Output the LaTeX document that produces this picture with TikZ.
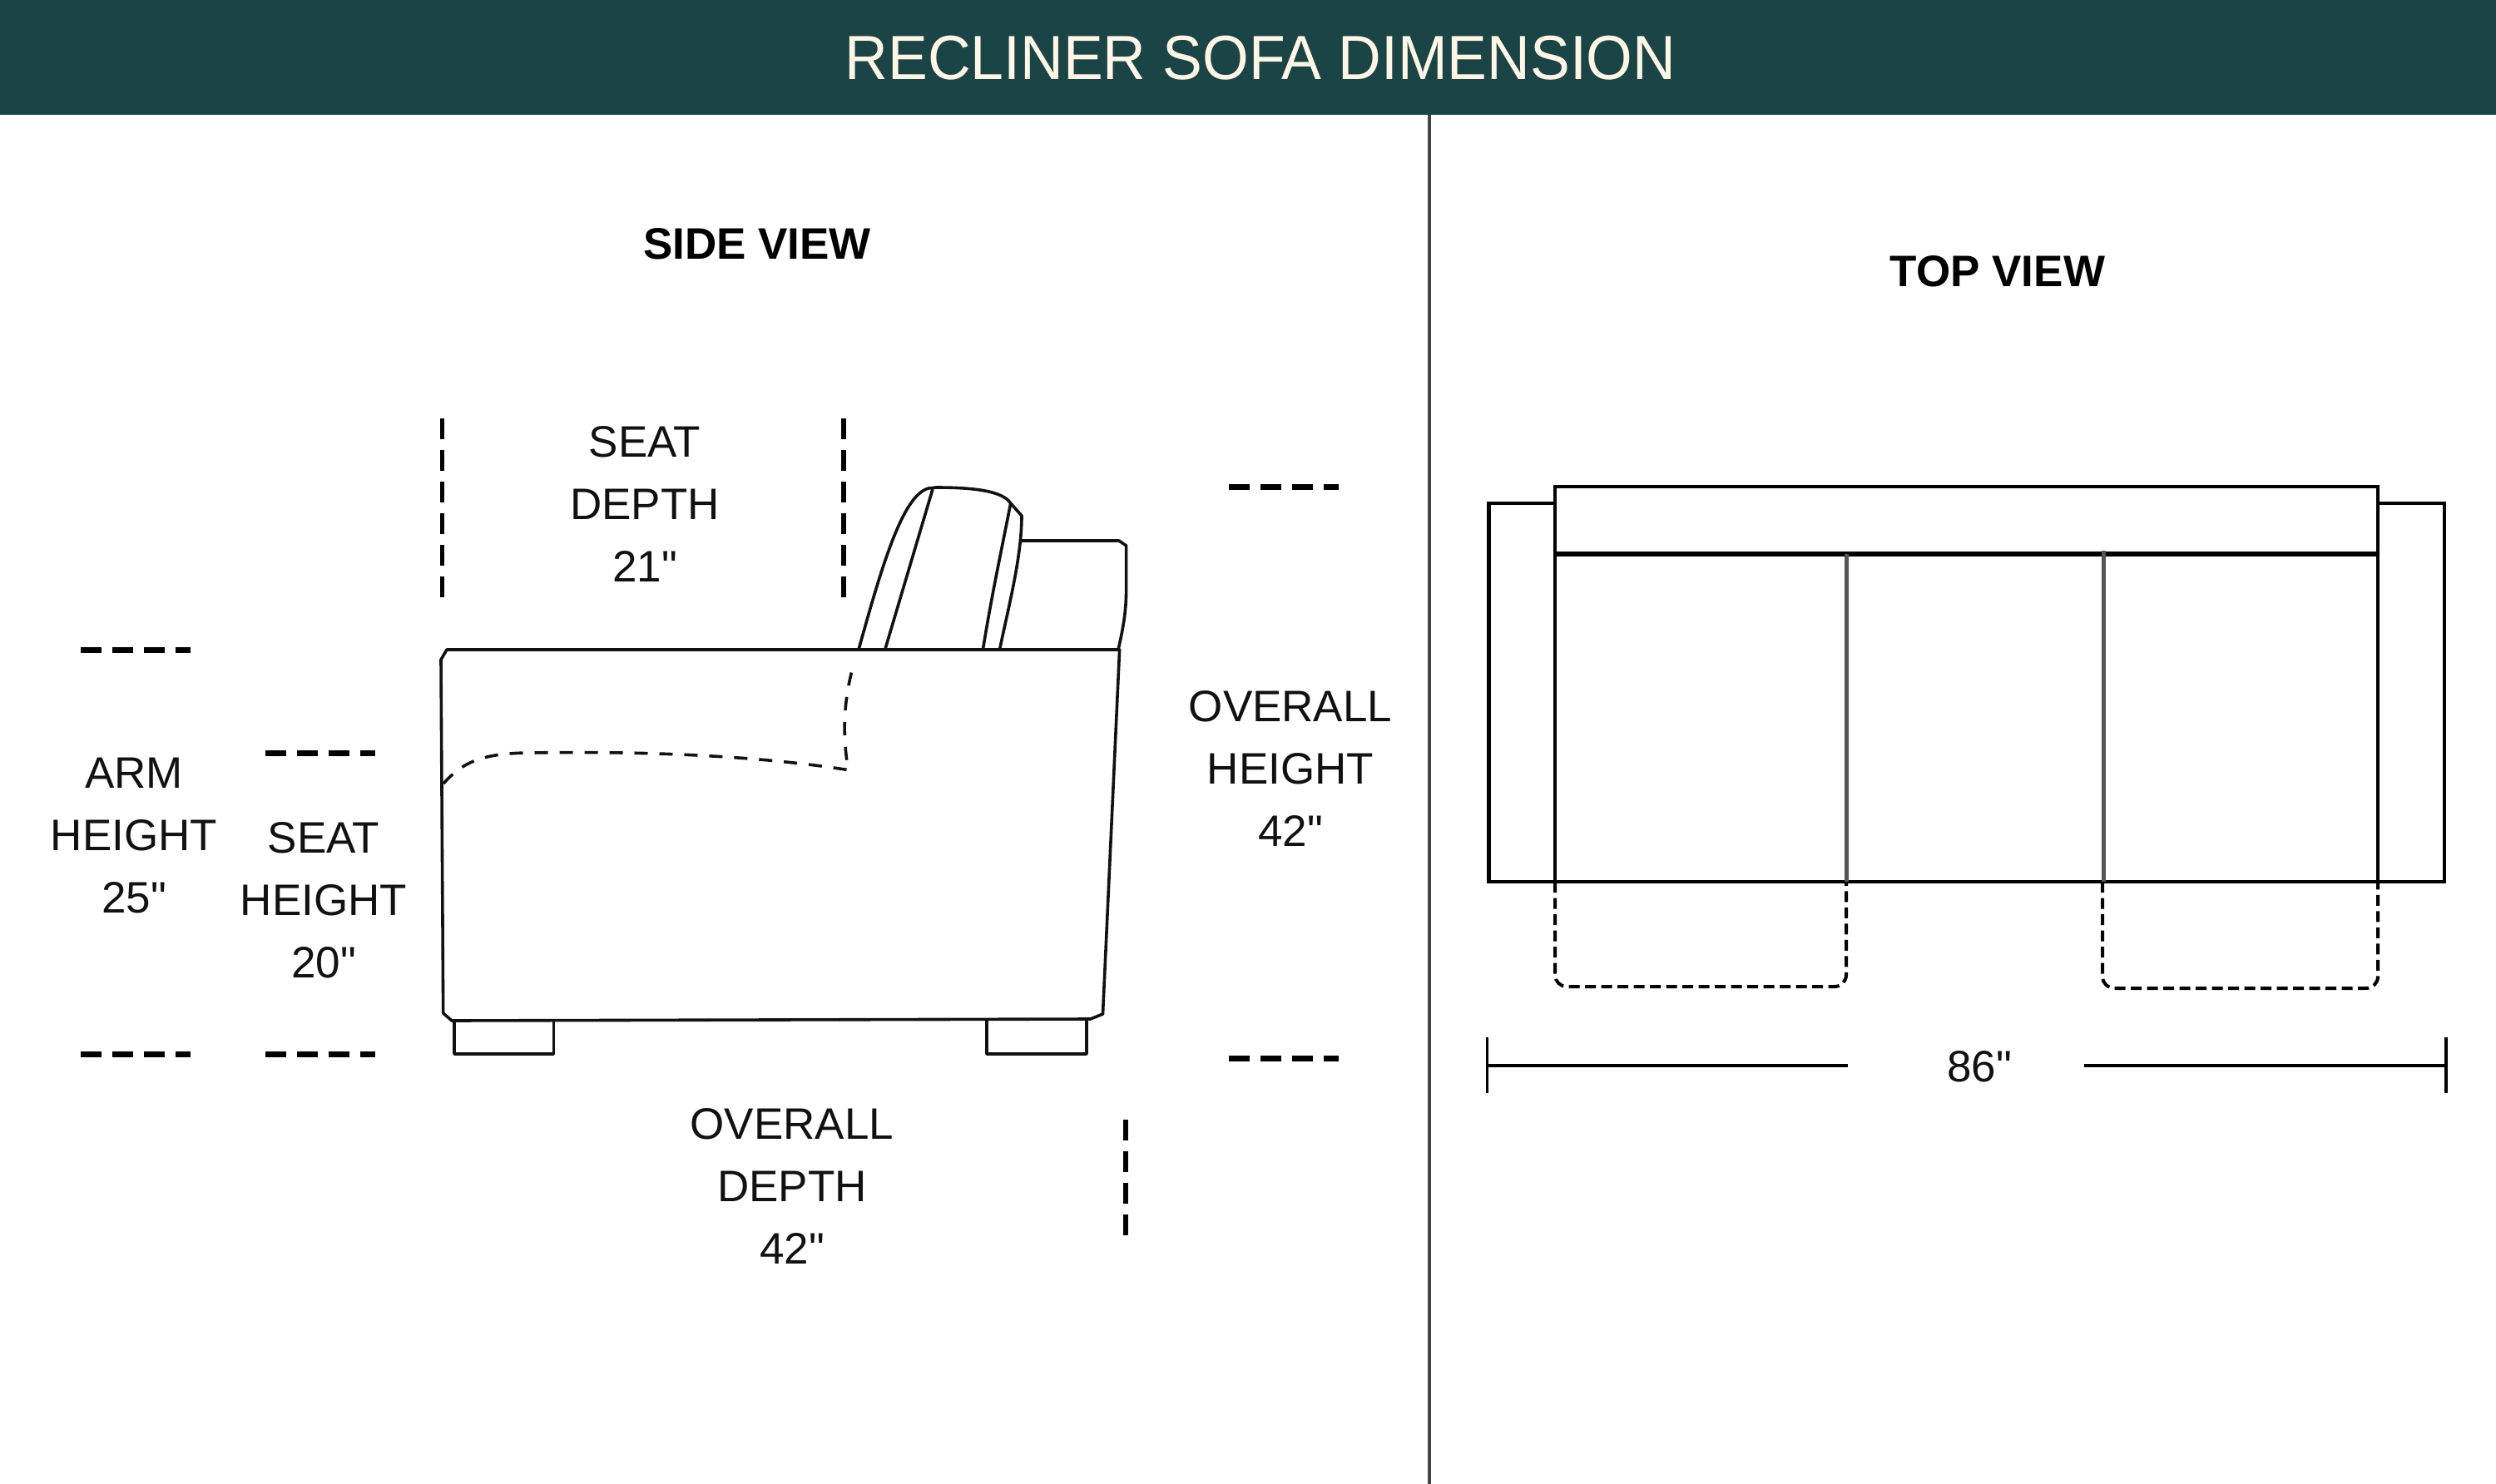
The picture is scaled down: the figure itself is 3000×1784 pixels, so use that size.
\documentclass[tikz,border=0pt]{standalone}
\usepackage{fontspec}
\setmainfont{Liberation Sans}
\newfontfamily\titlefont[FakeStretch=0.955]{Liberation Sans}
\newfontfamily\dimfont{Liberation Sans}
\definecolor{bandteal}{HTML}{1B4447}
\definecolor{cream}{HTML}{FFF6E6}
\definecolor{rulegrey}{HTML}{444444}
\definecolor{dividergrey}{HTML}{555555}
\definecolor{ink}{HTML}{111111}
\tikzset{
  band/.style={fill=bandteal,draw=none},
  maintitle/.style={text=cream,font=\titlefont\fontsize{75}{75}\selectfont,inner sep=0pt},
  viewtitle/.style={text=black,font=\fontsize{53}{53}\selectfont\bfseries,inner sep=0pt},
  dimtext/.style={text=ink,font=\dimfont\fontsize{53}{75}\selectfont,align=center,inner sep=0pt},
  outline/.style={draw=ink,line width=3.6pt,line join=round},
  hidden/.style={draw=ink,line width=3.6pt,dash pattern=on 16pt off 14pt},
  plan/.style={draw=black,line width=4.5pt,line join=miter},
  planthick/.style={draw=black,line width=6pt},
  plandiv/.style={draw=dividergrey,line width=5pt},
  planhidden/.style={draw=black,line width=4pt,dash pattern=on 13pt off 6.5pt,rounded corners=14pt},
  guideh/.style={draw=black,line width=7pt,dash pattern=on 25pt off 13pt},
  guidev/.style={draw=black,line width=5.5pt,dash pattern=on 25pt off 13pt},
  dimline/.style={draw=black,line width=3.6pt},
}
\begin{document}
\begin{tikzpicture}[x=1pt,y=-1pt]
\useasboundingbox (0,0) rectangle (3000,1784);
\fill[white] (0,0) rectangle (3000,1784);
\fill[band] (0,0) rectangle (3000,138.5);
\draw[rulegrey,line width=3.5pt] (1718,138.5) -- (1718,1784);

\node[maintitle] (title) at (1515,70) {RECLINER SOFA DIMENSION};
\node[viewtitle] (side) at (910,293) {SIDE VIEW};
\node[viewtitle] (top) at (2401,326) {TOP VIEW};

% Side view: body
\draw[outline] (537,781) -- (1345.6,781) -- (1325.5,1219) -- (1310.6,1225) -- (543,1227) -- (532.7,1218) -- (530,793) -- cycle;
% Feet
\draw[outline] (546,1227) -- (546,1267) -- (665.3,1267) -- (665.3,1227);
\draw[outline] (1186,1225) -- (1186,1267) -- (1306,1267) -- (1306,1225);
% Back cushion
\draw[outline] (1032,781) .. controls (1060,680) and (1085,595) .. (1116,587) -- (1125,586)
  .. controls (1170,586) and (1205,590) .. (1214.7,605) -- (1228,620)
  .. controls (1228,670) and (1212,730) .. (1201.5,781);
\draw[outline] (1063.7,781) -- (1121,588);
\draw[outline] (1181.4,781) .. controls (1192,715) and (1204,660) .. (1214.7,605);
\draw[outline] (1228,650) -- (1345,650) -- (1353.6,656) -- (1353.6,709) .. controls (1353.6,735) and (1350,755) .. (1344,781);
% Hidden seat line
\draw[hidden] (533,942) .. controls (556,916) and (580,905) .. (640,905)
  .. controls (760,903) and (900,907) .. (1019.5,925.6)
  .. controls (1012,880) and (1014,840) .. (1027,795);

% Guides
\draw[guidev] (531.6,503) -- (531.6,719);
\draw[guidev] (1014,503) -- (1014,719);
\draw[guidev] (1353,1346) -- (1353,1485);
\draw[guideh] (97,781) -- (229,781);
\draw[guideh] (97,1267) -- (229,1267);
\draw[guideh] (319,905) -- (451,905);
\draw[guideh] (319,1267) -- (451,1267);
\draw[guideh] (1477,585.5) -- (1609,585.5);
\draw[guideh] (1477,1272) -- (1609,1272);

% Labels
\node[dimtext] (seatdepth) at (775,606) {SEAT\\DEPTH\\21"};
\node[dimtext] (armheight) at (161,1005) {ARM\\HEIGHT\\25"};
\node[dimtext] (seatheight) at (389,1082) {SEAT\\HEIGHT\\20"};
\node[dimtext] (overallheight) at (1551,924) {OVERALL\\HEIGHT\\42"};
\node[dimtext] (overalldepth) at (952,1426) {OVERALL\\DEPTH\\42"};

% Top view
\draw[plan] (1869,604.8) -- (1789.5,604.8) -- (1789.5,1060) -- (1869,1060);
\draw[plan] (2858,604.8) -- (2938,604.8) -- (2938,1060) -- (2858,1060);
\draw[plan] (1869,585) rectangle (2858,1060);
\draw[planthick] (1869,665.5) -- (2858,665.5);
\draw[plandiv] (2219,665.5) -- (2219,1060);
\draw[plandiv] (2528.4,662) -- (2528.4,1060);
\draw[planhidden] (1869,1060) -- (1869,1186) -- (2219,1186) -- (2219,1060);
\draw[planhidden] (2527,1060) -- (2527,1188) -- (2858,1188) -- (2858,1060);
% Width dimension
\coordinate (dl) at (1787.5,1281);
\coordinate (dr) at (2940,1281);
\coordinate (dli) at (2221,1281);
\coordinate (dri) at (2505.4,1281);
\node[dimtext] (width) at (2379,1282) {86"};
\draw[dimline] (dl) -- (dli);
\draw[dimline] (dri) -- (dr);
\draw[dimline] (1787.5,1247) -- (1787.5,1314);
\draw[dimline] (2940,1247) -- (2940,1314);
\end{tikzpicture}
\end{document}
